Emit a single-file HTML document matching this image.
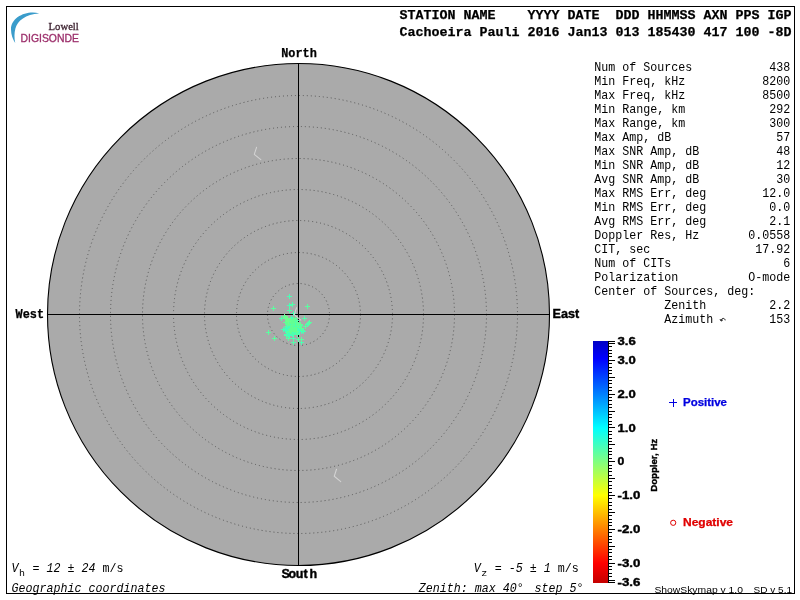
<!DOCTYPE html>
<html><head><meta charset="utf-8"><title>Skymap</title>
<style>html,body{margin:0;padding:0;background:#fff;}body{width:800px;height:600px;overflow:hidden;}svg{display:block;will-change:transform;}text{font-family:"Liberation Mono",monospace;fill:#000;}.mb{font-family:"Liberation Mono",monospace;font-weight:bold;stroke:#000;stroke-width:.25px;}.sb{font-family:"Liberation Sans",sans-serif;font-weight:bold;stroke:#000;stroke-width:.4px;}.s{font-family:"Liberation Sans",sans-serif;}.mi{font-family:"Liberation Mono",monospace;font-style:italic;}</style></head><body>
<svg width="800" height="600" viewBox="0 0 800 600">
<defs><linearGradient id="jet" x1="0" y1="0" x2="0" y2="1">
<stop offset="0.0000" stop-color="#0000c4"/>
<stop offset="0.0728" stop-color="#0000ff"/>
<stop offset="0.2194" stop-color="#0080ff"/>
<stop offset="0.3591" stop-color="#00ffff"/>
<stop offset="0.4988" stop-color="#80ff80"/>
<stop offset="0.6384" stop-color="#ffff00"/>
<stop offset="0.7781" stop-color="#ff8000"/>
<stop offset="0.9178" stop-color="#ff0000"/>
<stop offset="1.0000" stop-color="#c40000"/>
</linearGradient></defs>
<rect x="0" y="0" width="800" height="600" fill="#fff"/>
<rect x="6.5" y="6.5" width="788" height="587" fill="none" stroke="#000" stroke-width="1" shape-rendering="crispEdges"/>
<path d="M39.2 13.4 C27 10 10.8 17 11 29.5 C11.1 34.5 12.6 39 15.2 43 C14.2 37.5 14.2 33 15.4 28.4 C17.4 20.6 25.5 14.2 39.2 13.4 Z" fill="#3a9ccb"/>
<text x="48.6" y="30.4" style="font-family:'Liberation Serif',serif;font-size:11px;fill:#3a1f2d;stroke:#3a1f2d;stroke-width:0.3px" textLength="30.2" lengthAdjust="spacingAndGlyphs">Lowell</text>
<text class="s" x="20.5" y="42.4" style="font-size:10.4px;fill:#9c2f6b;stroke:#9c2f6b;stroke-width:0.3px" textLength="58.4" lengthAdjust="spacingAndGlyphs">DIGISONDE</text>
<text class="mb" xml:space="preserve" x="399.5" y="19.4" font-size="13.33" textLength="392" lengthAdjust="spacingAndGlyphs">STATION NAME    YYYY DATE  DDD HHMMSS AXN PPS IGP</text>
<text class="mb" xml:space="preserve" x="399.5" y="35.6" font-size="13.33" textLength="392" lengthAdjust="spacingAndGlyphs">Cachoeira Pauli 2016 Jan13 013 185430 417 100 -8D</text>
<circle cx="298.5" cy="314.5" r="251.0" fill="#aaaaaa" stroke="#000" stroke-width="1.1"/>
<circle cx="298.5" cy="314.5" r="31" fill="none" stroke="#565656" stroke-width="1" stroke-dasharray="1 3"/>
<circle cx="298.5" cy="314.5" r="62" fill="none" stroke="#565656" stroke-width="1" stroke-dasharray="1 3"/>
<circle cx="298.5" cy="314.5" r="94" fill="none" stroke="#565656" stroke-width="1" stroke-dasharray="1 3"/>
<circle cx="298.5" cy="314.5" r="125" fill="none" stroke="#565656" stroke-width="1" stroke-dasharray="1 3"/>
<circle cx="298.5" cy="314.5" r="156" fill="none" stroke="#565656" stroke-width="1" stroke-dasharray="1 3"/>
<circle cx="298.5" cy="314.5" r="188" fill="none" stroke="#565656" stroke-width="1" stroke-dasharray="1 3"/>
<circle cx="298.5" cy="314.5" r="219" fill="none" stroke="#565656" stroke-width="1" stroke-dasharray="1 3"/>
<path d="M298.5 63.5V565.5M47.5 314.5H549.5" stroke="#000" stroke-width="1" fill="none" shape-rendering="crispEdges"/>
<path d="M256.55 147.30L254.30 154.30L260.80 159.65M336.50 469.25L334.25 476.25L340.75 481.60" stroke="#d3d3d3" stroke-width="1.05" fill="none" stroke-linejoin="round" stroke-linecap="round"/>
<path d="M289 324.5h5M291.5 322v5M292 325.5h5M294.5 323v5M289 325.5h5M291.5 323v5M294 327.5h5M296.5 325v5M288 332.5h5M290.5 330v5M298 328.5h5M300.5 326v5M298 329.5h5M300.5 327v5M296 326.5h5M298.5 324v5M296 328.5h5M298.5 326v5M284 334.5h5M286.5 332v5M293 325.5h5M295.5 323v5M291 332.5h5M293.5 330v5M287 323.5h5M289.5 321v5M286 331.5h5M288.5 329v5M289 328.5h5M291.5 326v5M285 327.5h5M287.5 325v5M288 325.5h5M290.5 323v5M290 331.5h5M292.5 329v5M295 334.5h5M297.5 332v5M289 329.5h5M291.5 327v5M290 334.5h5M292.5 332v5M292 329.5h5M294.5 327v5M293 328.5h5M295.5 326v5M291 326.5h5M293.5 324v5M291 330.5h5M293.5 328v5M291 333.5h5M293.5 331v5M296 330.5h5M298.5 328v5M298 329.5h5M300.5 327v5M290 325.5h5M292.5 323v5M292 322.5h5M294.5 320v5M286 327.5h5M288.5 325v5M287 326.5h5M289.5 324v5M291 327.5h5M293.5 325v5M293 331.5h5M295.5 329v5M293 320.5h5M295.5 318v5M287 328.5h5M289.5 326v5M287 296.5h5M289.5 294v5M287 305.5h5M289.5 303v5M291 313.5h5M293.5 311v5M305 324.5h5M307.5 322v5M291 338.5h5M293.5 336v5M299 342.5h5M301.5 340v5M281 329.5h5M283.5 327v5M301 331.5h5M303.5 329v5" stroke="#4affb4" stroke-width="1" fill="none" shape-rendering="crispEdges"/>
<path d="M293 327.5h5M295.5 325v5M292 328.5h5M294.5 326v5M287 322.5h5M289.5 320v5M286 327.5h5M288.5 325v5M291 333.5h5M293.5 331v5M285 331.5h5M287.5 329v5M290 331.5h5M292.5 329v5M290 324.5h5M292.5 322v5M287 329.5h5M289.5 327v5M294 326.5h5M296.5 324v5M295 329.5h5M297.5 327v5M291 331.5h5M293.5 329v5M295 326.5h5M297.5 324v5M295 334.5h5M297.5 332v5M298 325.5h5M300.5 323v5M287 330.5h5M289.5 328v5M291 319.5h5M293.5 317v5M295 330.5h5M297.5 328v5M295 333.5h5M297.5 331v5M295 326.5h5M297.5 324v5M289 320.5h5M291.5 318v5M290 326.5h5M292.5 324v5M293 325.5h5M295.5 323v5M290 304.5h5M292.5 302v5M287 310.5h5M289.5 308v5M302 318.5h5M304.5 316v5M306 323.5h5M308.5 321v5M291 342.5h5M293.5 340v5M296 339.5h5M298.5 337v5M279 318.5h5M281.5 316v5M284 335.5h5M286.5 333v5" stroke="#52ffaa" stroke-width="1" fill="none" shape-rendering="crispEdges"/>
<path d="M289 328.5h5M291.5 326v5M296 328.5h5M298.5 326v5M296 327.5h5M298.5 325v5M293 322.5h5M295.5 320v5M293 332.5h5M295.5 330v5M293 325.5h5M295.5 323v5M292 328.5h5M294.5 326v5M291 329.5h5M293.5 327v5M288 324.5h5M290.5 322v5M295 324.5h5M297.5 322v5M296 325.5h5M298.5 323v5M290 322.5h5M292.5 320v5M287 331.5h5M289.5 329v5M290 331.5h5M292.5 329v5M284 326.5h5M286.5 324v5M290 325.5h5M292.5 323v5M288 327.5h5M290.5 325v5M295 323.5h5M297.5 321v5M294 324.5h5M296.5 322v5M292 323.5h5M294.5 321v5M290 328.5h5M292.5 326v5M300 330.5h5M302.5 328v5M286 330.5h5M288.5 328v5M285 334.5h5M287.5 332v5M293 327.5h5M295.5 325v5M271 308.5h5M273.5 306v5M305 306.5h5M307.5 304v5M307 322.5h5M309.5 320v5M266 332.5h5M268.5 330v5M272 338.5h5M274.5 336v5M286 338.5h5M288.5 336v5M299 339.5h5M301.5 337v5M303 326.5h5M305.5 324v5" stroke="#5aff9f" stroke-width="1" fill="none" shape-rendering="crispEdges"/>
<path d="M286 324.5h5M288.5 322v5M293 328.5h5M295.5 326v5M287 335.5h5M289.5 333v5M283 330.5h5M285.5 328v5M299 329.5h5M301.5 327v5M296 326.5h5M298.5 324v5M296 330.5h5M298.5 328v5M292 326.5h5M294.5 324v5M293 327.5h5M295.5 325v5M292 323.5h5M294.5 321v5M292 332.5h5M294.5 330v5M290 327.5h5M292.5 325v5M294 320.5h5M296.5 318v5M297 330.5h5M299.5 328v5M291 319.5h5M293.5 317v5M286 334.5h5M288.5 332v5M292 322.5h5M294.5 320v5M293 331.5h5M295.5 329v5M290 319.5h5M292.5 317v5M291 330.5h5M293.5 328v5M284 328.5h5M286.5 326v5M286 329.5h5M288.5 327v5M294 330.5h5M296.5 328v5M286 325.5h5M288.5 323v5M294 328.5h5M296.5 326v5M299 331.5h5M301.5 329v5M290 328.5h5M292.5 326v5M287 325.5h5M289.5 323v5M293 328.5h5M295.5 326v5M294 327.5h5M296.5 325v5M291 321.5h5M293.5 319v5M290 319.5h5M292.5 317v5M289 318.5h5M291.5 316v5" stroke="#44ffbc" stroke-width="1" fill="none" shape-rendering="crispEdges"/>
<path d="M282 316.5h5M284.5 314v5M286 323.5h5M288.5 321v5M288 320.5h5M290.5 318v5M293 318.5h5M295.5 316v5M290 321.5h5M292.5 319v5M294 331.5h5M296.5 329v5M291 319.5h5M293.5 317v5M294 322.5h5M296.5 320v5M288 319.5h5M290.5 317v5M286 323.5h5M288.5 321v5M292 322.5h5M294.5 320v5M293 329.5h5M295.5 327v5M292 329.5h5M294.5 327v5M290 327.5h5M292.5 325v5M288 329.5h5M290.5 327v5M289 325.5h5M291.5 323v5M296 324.5h5M298.5 322v5M291 329.5h5M293.5 327v5M298 324.5h5M300.5 322v5M288 331.5h5M290.5 329v5M294 327.5h5M296.5 325v5M289 323.5h5M291.5 321v5M292 330.5h5M294.5 328v5M285 324.5h5M287.5 322v5M299 328.5h5M301.5 326v5M283 322.5h5M285.5 320v5M292 327.5h5M294.5 325v5M289 330.5h5M291.5 328v5" stroke="#62ff94" stroke-width="1" fill="none" shape-rendering="crispEdges"/>
<path d="M283 317.5h5M285.5 315v5M285 318.5h5M287.5 316v5M286 321.5h5M288.5 319v5M286 321.5h5M288.5 319v5M284 318.5h5M286.5 316v5" stroke="#6cff8e" stroke-width="1" fill="none" shape-rendering="crispEdges"/>
<path d="M296.55 307.70L294.30 314.70L300.80 320.05" stroke="#d3d3d3" stroke-width="1.05" fill="none" stroke-linejoin="round" stroke-linecap="round"/>
<text class="mb" x="281.2" y="57" font-size="12" textLength="35.6" lengthAdjust="spacingAndGlyphs">North</text>
<text class="sb" x="281.6 288.5 295.8 303.5 309.5" y="577.7" font-size="12.5">South</text>
<text class="sb" x="552.6" y="317.7" font-size="12.4" textLength="26.6" lengthAdjust="spacingAndGlyphs">East</text>
<text class="mb" x="15.6" y="317.7" font-size="12" textLength="28.4" lengthAdjust="spacingAndGlyphs">West</text>
<text xml:space="preserve" x="594.3" y="70.8" font-size="11.9" textLength="98.0" lengthAdjust="spacingAndGlyphs">Num of Sources</text>
<text xml:space="preserve" x="769.3" y="70.8" font-size="11.9" textLength="21.0" lengthAdjust="spacingAndGlyphs">438</text>
<text xml:space="preserve" x="594.3" y="84.8" font-size="11.9" textLength="91.0" lengthAdjust="spacingAndGlyphs">Min Freq, kHz</text>
<text xml:space="preserve" x="762.3" y="84.8" font-size="11.9" textLength="28.0" lengthAdjust="spacingAndGlyphs">8200</text>
<text xml:space="preserve" x="594.3" y="98.8" font-size="11.9" textLength="91.0" lengthAdjust="spacingAndGlyphs">Max Freq, kHz</text>
<text xml:space="preserve" x="762.3" y="98.8" font-size="11.9" textLength="28.0" lengthAdjust="spacingAndGlyphs">8500</text>
<text xml:space="preserve" x="594.3" y="112.8" font-size="11.9" textLength="91.0" lengthAdjust="spacingAndGlyphs">Min Range, km</text>
<text xml:space="preserve" x="769.3" y="112.8" font-size="11.9" textLength="21.0" lengthAdjust="spacingAndGlyphs">292</text>
<text xml:space="preserve" x="594.3" y="126.8" font-size="11.9" textLength="91.0" lengthAdjust="spacingAndGlyphs">Max Range, km</text>
<text xml:space="preserve" x="769.3" y="126.8" font-size="11.9" textLength="21.0" lengthAdjust="spacingAndGlyphs">300</text>
<text xml:space="preserve" x="594.3" y="140.8" font-size="11.9" textLength="77.0" lengthAdjust="spacingAndGlyphs">Max Amp, dB</text>
<text xml:space="preserve" x="776.3" y="140.8" font-size="11.9" textLength="14.0" lengthAdjust="spacingAndGlyphs">57</text>
<text xml:space="preserve" x="594.3" y="154.8" font-size="11.9" textLength="105.0" lengthAdjust="spacingAndGlyphs">Max SNR Amp, dB</text>
<text xml:space="preserve" x="776.3" y="154.8" font-size="11.9" textLength="14.0" lengthAdjust="spacingAndGlyphs">48</text>
<text xml:space="preserve" x="594.3" y="168.8" font-size="11.9" textLength="105.0" lengthAdjust="spacingAndGlyphs">Min SNR Amp, dB</text>
<text xml:space="preserve" x="776.3" y="168.8" font-size="11.9" textLength="14.0" lengthAdjust="spacingAndGlyphs">12</text>
<text xml:space="preserve" x="594.3" y="182.8" font-size="11.9" textLength="105.0" lengthAdjust="spacingAndGlyphs">Avg SNR Amp, dB</text>
<text xml:space="preserve" x="776.3" y="182.8" font-size="11.9" textLength="14.0" lengthAdjust="spacingAndGlyphs">30</text>
<text xml:space="preserve" x="594.3" y="196.8" font-size="11.9" textLength="112.0" lengthAdjust="spacingAndGlyphs">Max RMS Err, deg</text>
<text xml:space="preserve" x="762.3" y="196.8" font-size="11.9" textLength="28.0" lengthAdjust="spacingAndGlyphs">12.0</text>
<text xml:space="preserve" x="594.3" y="210.8" font-size="11.9" textLength="112.0" lengthAdjust="spacingAndGlyphs">Min RMS Err, deg</text>
<text xml:space="preserve" x="769.3" y="210.8" font-size="11.9" textLength="21.0" lengthAdjust="spacingAndGlyphs">0.0</text>
<text xml:space="preserve" x="594.3" y="224.8" font-size="11.9" textLength="112.0" lengthAdjust="spacingAndGlyphs">Avg RMS Err, deg</text>
<text xml:space="preserve" x="769.3" y="224.8" font-size="11.9" textLength="21.0" lengthAdjust="spacingAndGlyphs">2.1</text>
<text xml:space="preserve" x="594.3" y="238.8" font-size="11.9" textLength="105.0" lengthAdjust="spacingAndGlyphs">Doppler Res, Hz</text>
<text xml:space="preserve" x="748.3" y="238.8" font-size="11.9" textLength="42.0" lengthAdjust="spacingAndGlyphs">0.0558</text>
<text xml:space="preserve" x="594.3" y="252.8" font-size="11.9" textLength="56.0" lengthAdjust="spacingAndGlyphs">CIT, sec</text>
<text xml:space="preserve" x="755.3" y="252.8" font-size="11.9" textLength="35.0" lengthAdjust="spacingAndGlyphs">17.92</text>
<text xml:space="preserve" x="594.3" y="266.8" font-size="11.9" textLength="77.0" lengthAdjust="spacingAndGlyphs">Num of CITs</text>
<text xml:space="preserve" x="783.3" y="266.8" font-size="11.9" textLength="7.0" lengthAdjust="spacingAndGlyphs">6</text>
<text xml:space="preserve" x="594.3" y="280.8" font-size="11.9" textLength="84.0" lengthAdjust="spacingAndGlyphs">Polarization</text>
<text xml:space="preserve" x="748.3" y="280.8" font-size="11.9" textLength="42.0" lengthAdjust="spacingAndGlyphs">O-mode</text>
<text xml:space="preserve" x="594.3" y="294.8" font-size="11.9" textLength="161.0" lengthAdjust="spacingAndGlyphs">Center of Sources, deg:</text>
<text xml:space="preserve" x="594.3" y="308.8" font-size="11.9" textLength="112.0" lengthAdjust="spacingAndGlyphs">          Zenith</text>
<text xml:space="preserve" x="769.3" y="308.8" font-size="11.9" textLength="21.0" lengthAdjust="spacingAndGlyphs">2.2</text>
<text xml:space="preserve" x="594.3" y="322.8" font-size="11.9" textLength="119.0" lengthAdjust="spacingAndGlyphs">          Azimuth</text>
<text xml:space="preserve" x="769.3" y="322.8" font-size="11.9" textLength="21.0" lengthAdjust="spacingAndGlyphs">153</text>
<path d="M721.2 320.7 C721.2 317.7 724.8 317.7 725.2 320.3 M720 319.1 L721.2 321.1 L723 319.7" stroke="#000" stroke-width="0.9" fill="none"/>
<rect x="593" y="341" width="15" height="242" fill="url(#jet)"/>
<path d="M608.5 341V583M609 341.5h6M609 343.5h6M609 346.5h3M609 350.5h3M609 353.5h3M609 356.5h3M609 360.5h6M609 363.5h3M609 367.5h3M609 370.5h3M609 373.5h3M609 377.5h6M609 380.5h3M609 383.5h3M609 387.5h3M609 390.5h3M609 394.5h6M609 397.5h3M609 400.5h3M609 404.5h3M609 407.5h3M609 411.5h6M609 414.5h3M609 417.5h3M609 421.5h3M609 424.5h3M609 427.5h6M609 431.5h3M609 434.5h3M609 438.5h3M609 441.5h3M609 444.5h6M609 448.5h3M609 451.5h3M609 454.5h3M609 458.5h3M609 461.5h6M609 465.5h3M609 468.5h3M609 471.5h3M609 475.5h3M609 478.5h6M609 481.5h3M609 485.5h3M609 488.5h3M609 492.5h3M609 495.5h6M609 498.5h3M609 502.5h3M609 505.5h3M609 509.5h3M609 512.5h6M609 515.5h3M609 519.5h3M609 522.5h3M609 525.5h3M609 529.5h6M609 532.5h3M609 536.5h3M609 539.5h3M609 542.5h3M609 546.5h6M609 549.5h3M609 552.5h3M609 556.5h3M609 559.5h3M609 563.5h6M609 566.5h3M609 569.5h3M609 573.5h3M609 576.5h3M609 580.5h6M609 582.5h6" stroke="#000" stroke-width="1" fill="none" shape-rendering="crispEdges"/>
<text class="sb" x="617.6" y="344.5" font-size="10.6" textLength="18.2" lengthAdjust="spacingAndGlyphs">3.6</text>
<text class="sb" x="617.6" y="364.0" font-size="10.6" textLength="18.2" lengthAdjust="spacingAndGlyphs">3.0</text>
<text class="sb" x="617.6" y="397.8" font-size="10.6" textLength="18.2" lengthAdjust="spacingAndGlyphs">2.0</text>
<text class="sb" x="617.6" y="431.6" font-size="10.6" textLength="18.2" lengthAdjust="spacingAndGlyphs">1.0</text>
<text class="sb" x="617.6" y="465.4" font-size="10.6" textLength="6.8" lengthAdjust="spacingAndGlyphs">0</text>
<text class="sb" x="617.6" y="499.2" font-size="10.6" textLength="22.8" lengthAdjust="spacingAndGlyphs">-1.0</text>
<text class="sb" x="617.6" y="533.0" font-size="10.6" textLength="22.8" lengthAdjust="spacingAndGlyphs">-2.0</text>
<text class="sb" x="617.6" y="566.8" font-size="10.6" textLength="22.8" lengthAdjust="spacingAndGlyphs">-3.0</text>
<text class="sb" x="617.6" y="586.0" font-size="10.6" textLength="22.8" lengthAdjust="spacingAndGlyphs">-3.6</text>
<text class="sb" transform="translate(657.4 491.8) rotate(-90)" font-size="9.7" textLength="53" lengthAdjust="spacingAndGlyphs">Doppler, Hz</text>
<path d="M669 402.5h8M673.5 398.5v8" stroke="#0000e0" stroke-width="1" fill="none" shape-rendering="crispEdges"/>
<text class="sb" x="683" y="405.8" font-size="10.1" style="fill:#0000e0;stroke:#0000e0;stroke-width:0.25px" textLength="44" lengthAdjust="spacingAndGlyphs">Positive</text>
<circle cx="673.2" cy="522.8" r="2.6" fill="none" stroke="#e00000" stroke-width="1"/>
<text class="sb" x="683" y="526" font-size="10.1" style="fill:#e00000;stroke:#e00000;stroke-width:0.25px" textLength="50" lengthAdjust="spacingAndGlyphs">Negative</text>
<text class="mi" xml:space="preserve" x="11.6" y="572.0" font-size="11.9" textLength="7.0" lengthAdjust="spacingAndGlyphs">V</text>
<text  xml:space="preserve" x="19.0" y="576.0" font-size="9.8" textLength="6.0" lengthAdjust="spacingAndGlyphs">h</text>
<text  xml:space="preserve" x="32.6" y="572.0" font-size="11.9" textLength="7.0" lengthAdjust="spacingAndGlyphs">=</text>
<text class="mi" xml:space="preserve" x="46.6" y="572.0" font-size="11.9" textLength="14.0" lengthAdjust="spacingAndGlyphs">12</text>
<text  xml:space="preserve" x="67.6" y="572.0" font-size="11.9" textLength="7.0" lengthAdjust="spacingAndGlyphs">±</text>
<text class="mi" xml:space="preserve" x="81.6" y="572.0" font-size="11.9" textLength="14.0" lengthAdjust="spacingAndGlyphs">24</text>
<text  xml:space="preserve" x="102.6" y="572.0" font-size="11.9" textLength="21.0" lengthAdjust="spacingAndGlyphs">m/s</text>
<text class="mi" xml:space="preserve" x="11.6" y="592.2" font-size="11.9" textLength="154.0" lengthAdjust="spacingAndGlyphs">Geographic coordinates</text>
<text class="mi" xml:space="preserve" x="473.8" y="572.0" font-size="11.9" textLength="7.0" lengthAdjust="spacingAndGlyphs">V</text>
<text  xml:space="preserve" x="481.2" y="576.0" font-size="9.8" textLength="6.0" lengthAdjust="spacingAndGlyphs">z</text>
<text  xml:space="preserve" x="494.8" y="572.0" font-size="11.9" textLength="7.0" lengthAdjust="spacingAndGlyphs">=</text>
<text class="mi" xml:space="preserve" x="508.8" y="572.0" font-size="11.9" textLength="14.0" lengthAdjust="spacingAndGlyphs">-5</text>
<text  xml:space="preserve" x="529.8" y="572.0" font-size="11.9" textLength="7.0" lengthAdjust="spacingAndGlyphs">±</text>
<text class="mi" xml:space="preserve" x="543.8" y="572.0" font-size="11.9" textLength="7.0" lengthAdjust="spacingAndGlyphs">1</text>
<text  xml:space="preserve" x="557.8" y="572.0" font-size="11.9" textLength="21.0" lengthAdjust="spacingAndGlyphs">m/s</text>
<text class="mi" xml:space="preserve" x="418.8" y="592.2" font-size="11.9" textLength="105.0" lengthAdjust="spacingAndGlyphs">Zenith: max 40°</text>
<text class="mi" xml:space="preserve" x="534.5" y="592.2" font-size="11.9" textLength="49.0" lengthAdjust="spacingAndGlyphs">step 5°</text>
<text class="s" x="654.4" y="592.7" font-size="9.7" textLength="88.6" lengthAdjust="spacingAndGlyphs">ShowSkymap v 1.0</text>
<text class="s" x="753.6" y="592.7" font-size="9.7" textLength="38.4" lengthAdjust="spacingAndGlyphs">SD v 5.1</text>
</svg></body></html>
